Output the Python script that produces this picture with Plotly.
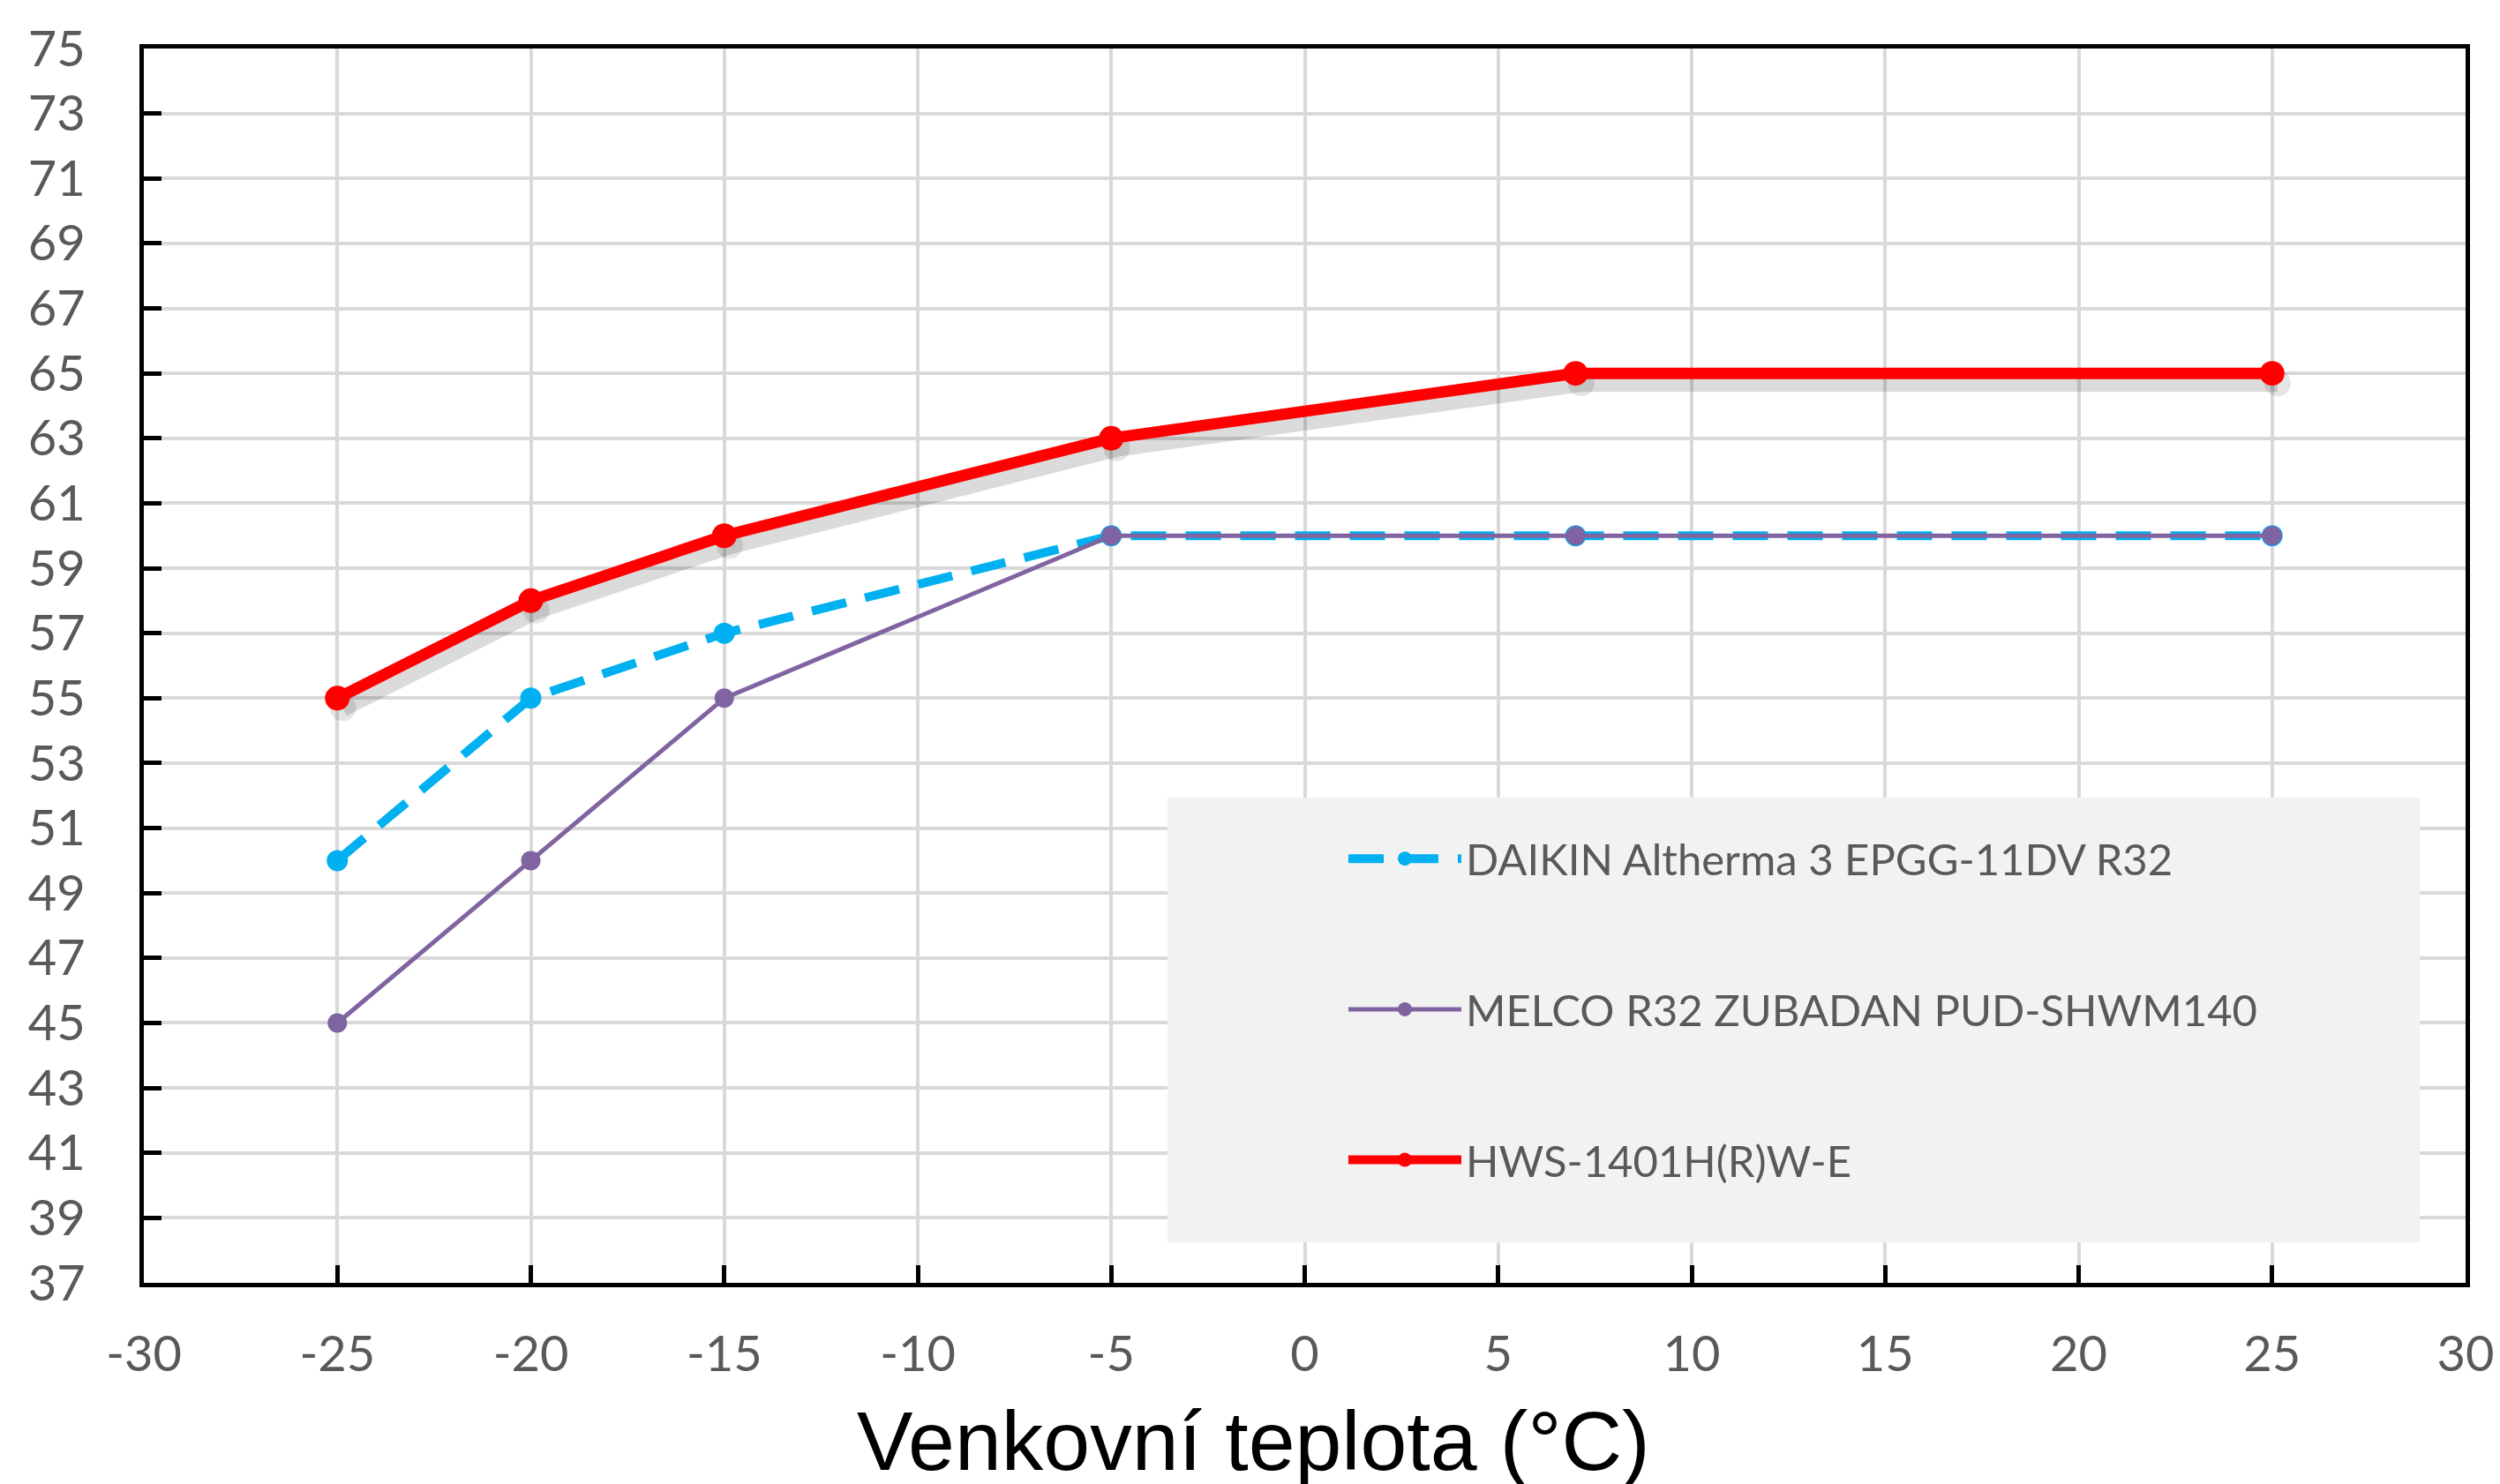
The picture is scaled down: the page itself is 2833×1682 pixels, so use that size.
import plotly.graph_objects as go

temps = [-25, -20, -15, -5, 7, 25]
daikin = [50, 55, 57, 60, 60, 60]
melco = [45, 50, 55, 60, 60, 60]
hws = [55, 58, 60, 63, 65, 65]
names = ["DAIKIN Altherma 3 EPGG-11DV R32", "MELCO R32 ZUBADAN PUD-SHWM140", "HWS-1401H(R)W-E"]
x_ticks = list(range(-30, 31, 5))
y_ticks = list(range(37, 76, 2))
x_title = "Venkovní teplota (°C)"

W, H = 2833, 1682
L, R, T, B = 155, 47, 42, 236

fig = go.Figure()
# soft drop shadow of the red series (drawn on hidden, slightly shifted axes)
fig.add_trace(go.Scatter(x=temps, y=hws, mode="lines+markers", showlegend=False, hoverinfo="skip",
                         line=dict(color="rgba(0,0,0,0.14)", width=20),
                         marker=dict(size=30, color="rgba(0,0,0,0.10)"),
                         xaxis="x", yaxis="y"))
fig.add_trace(go.Scatter(x=temps, y=daikin, name=names[0], mode="lines+markers",
                         line=dict(color="#00b0f0", width=10, dash="40px,22px"),
                         marker=dict(size=24, color="#00b0f0"), legendgroup="a",
                         xaxis="x2", yaxis="y2"))
fig.add_trace(go.Scatter(x=temps, y=melco, name=names[1], mode="lines+markers",
                         line=dict(color="#8064a2", width=5),
                         marker=dict(size=22, color="#8064a2"), legendgroup="b",
                         xaxis="x2", yaxis="y2"))
fig.add_trace(go.Scatter(x=temps, y=hws, name=names[2], mode="lines+markers",
                         line=dict(color="#ff0000", width=13),
                         marker=dict(size=28, color="#ff0000"), legendgroup="c",
                         xaxis="x2", yaxis="y2"))

tickfont = dict(family="Lato", size=56, color="#595959")

pw = W - L - R
ph = H - T - B
def px(xp):
    return (xp - L) / pw
def py(yp):
    return (H - B - yp) / ph

fig.add_shape(type="rect", xref="paper", yref="paper",
              x0=px(1315), x1=px(2734), y0=py(1400), y1=py(894),
              fillcolor="#f2f2f2", line=dict(width=0), layer="above")

fig.add_annotation(text=x_title, xref="paper", yref="paper", x=px(1412), y=py(1626),
                   showarrow=False, font=dict(family="Liberation Sans", size=95, color="black"),
                   xanchor="center", yanchor="middle")

fig.update_layout(
    width=W, height=H,
    margin=dict(l=L, r=R, t=T, b=B),
    plot_bgcolor="white", paper_bgcolor="white",
    showlegend=True,
    xaxis=dict(range=[-30.14, 29.86], visible=False, showgrid=False, zeroline=False),
    yaxis=dict(range=[37.3, 75.3], visible=False, showgrid=False, zeroline=False),
    xaxis2=dict(overlaying="x", anchor="y2", side="bottom",
                range=[-30, 30], tickvals=x_ticks, ticktext=[str(v) for v in x_ticks],
                showgrid=True, gridcolor="#d9d9d9", gridwidth=4,
                showline=True, linecolor="black", linewidth=5, mirror=True,
                ticks="inside", ticklen=20, tickwidth=5, tickcolor="black",
                tickfont=tickfont, zeroline=False, ticklabelstandoff=28),
    yaxis2=dict(overlaying="y", anchor="x2", side="left",
                range=[37, 75], tickvals=y_ticks, ticktext=[str(v) for v in y_ticks],
                showgrid=True, gridcolor="#d9d9d9", gridwidth=4,
                showline=True, linecolor="black", linewidth=5, mirror=True,
                ticks="inside", ticklen=20, tickwidth=5, tickcolor="black",
                tickfont=tickfont, zeroline=False, ticklabelstandoff=50),
    legend=dict(x=px(1515), y=py(925), xanchor="left", yanchor="top",
                bgcolor="rgba(0,0,0,0)", font=dict(family="Lato", size=49, color="#595959"),
                traceorder="grouped", tracegroupgap=104, itemwidth=128),
)

fig.write_html("out.html")
